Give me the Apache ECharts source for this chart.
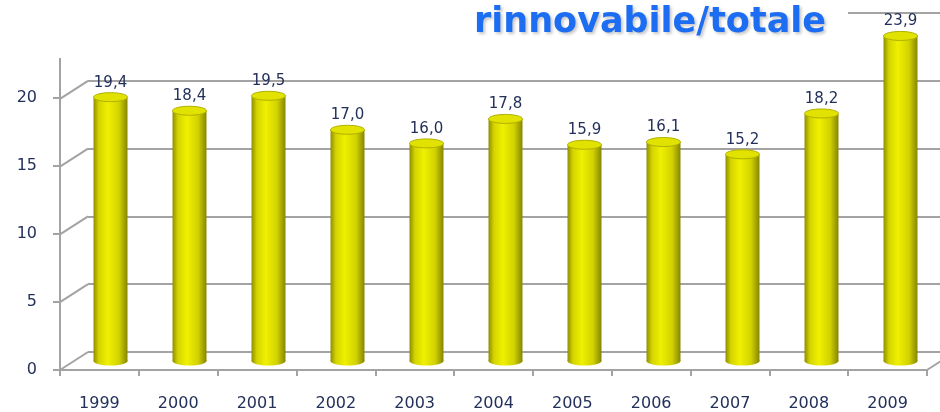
<!DOCTYPE html>
<html>
<head>
<meta charset="utf-8">
<script src="https://cdn.jsdelivr.net/npm/echarts@6/dist/echarts.min.js"></script>
<style>
  html, body { margin: 0; padding: 0; background: #fff; }
  #chart { width: 940px; height: 412px; }
</style>
</head>
<body>
<div id="chart"></div>
<script>
  // anni e quota rinnovabile/totale (%)
  const years = ['1999', '2000', '2001', '2002', '2003', '2004', '2005', '2006', '2007', '2008', '2009'];
  const shares = [19.4, 18.4, 19.5, 17.0, 16.0, 17.8, 15.9, 16.1, 15.2, 18.2, 23.9];
  const yTicks = [0, 5, 10, 15, 20, 25];

  const chart = echarts.init(document.getElementById('chart'));

  const gridGrey = '#a3a3a3';
  const textColor = '#23305a';
  const depthX = 28, depthY = 18;   // scostamento della parete di fondo (effetto 3D)

  // cilindro: corpo con gradiente + ellisse sopra e sotto
  function renderCylinder(params, api) {
    const x = api.value(0);
    const v = api.value(1);
    const top = api.coord([x, v]);
    const base = api.coord([x, 0]);
    const w = api.size([1, 0])[0] * 0.43;
    const rx = w / 2, ry = 4.5;
    const body = new echarts.graphic.LinearGradient(0, 0, 1, 0, [
      { offset: 0, color: '#8f8f00' },
      { offset: 0.16, color: '#d4d400' },
      { offset: 0.42, color: '#f0f000' },
      { offset: 0.75, color: '#d2d200' },
      { offset: 1, color: '#858500' }
    ]);
    return {
      type: 'group',
      children: [
        { type: 'ellipse', shape: { cx: base[0], cy: base[1], rx: rx, ry: ry }, style: { fill: body } },
        { type: 'rect', shape: { x: top[0] - rx, y: top[1], width: w, height: base[1] - top[1] }, style: { fill: body } },
        { type: 'ellipse', shape: { cx: top[0], cy: top[1], rx: rx, ry: ry },
          style: { fill: '#e2e200', stroke: '#b0b000', lineWidth: 1 } },
        { type: 'text', x: top[0], y: top[1] - 7,
          style: { text: v.toFixed(1).replace('.', ','), fill: textColor, font: '15px "DejaVu Sans"',
                   align: 'center', verticalAlign: 'bottom' } }
      ]
    };
  }

  // linee diagonali della parete laterale
  function renderSide(params, api) {
    const v = api.value(0);
    const cs = params.coordSys;
    const p = api.coord([0, v]);
    const children = [{
      type: 'line',
      shape: { x1: cs.x - depthX, y1: p[1] + depthY, x2: cs.x, y2: p[1] },
      style: { stroke: gridGrey, lineWidth: 2 }
    }];
    if (v === 0) {
      children.push({
        type: 'line',
        shape: { x1: 927, y1: p[1] + depthY, x2: 927 + depthX, y2: p[1] },
        style: { stroke: gridGrey, lineWidth: 2 }
      });
    }
    return { type: 'group', children: children };
  }

  const option = {
    animation: false,
    title: {
      text: 'rinnovabile/totale',
      left: 0,
      top: 0,
      padding: [5, 22, 18, 474],
      backgroundColor: '#fff',
      textStyle: {
        color: '#1d6df2',
        fontFamily: 'DejaVu Sans',
        fontWeight: 'bold',
        fontSize: 35,
        textShadowColor: 'rgba(0,0,0,0.22)',
        textShadowBlur: 3,
        textShadowOffsetX: 2,
        textShadowOffsetY: 2
      }
    },
    grid: [
      { left: 60, right: 13, top: 30, bottom: 42 },   // assi frontali
      { left: 88, right: -15, top: 13, bottom: 60 },  // parete di fondo
      { left: 71, right: 0, top: 21, bottom: 51 }     // cilindri
    ],
    xAxis: [
      {
        gridIndex: 0, type: 'category', data: years, boundaryGap: true,
        axisLine: { lineStyle: { color: gridGrey, width: 2 } },
        axisTick: { show: true, length: 6, lineStyle: { color: gridGrey, width: 2 } },
        axisLabel: { color: textColor, fontFamily: 'DejaVu Sans', fontSize: 16, margin: 26 }
      },
      { gridIndex: 1, type: 'category', data: years, show: false },
      { gridIndex: 2, type: 'category', data: years, show: false }
    ],
    yAxis: [
      {
        gridIndex: 0, type: 'value', min: 0, max: 25, interval: 5,
        axisLine: { show: true, lineStyle: { color: gridGrey, width: 2 } },
        axisTick: { show: true, length: 7, lineStyle: { color: gridGrey, width: 2 } },
        axisLabel: { color: textColor, fontFamily: 'DejaVu Sans', fontSize: 16, margin: 23 },
        splitLine: { show: false }
      },
      {
        gridIndex: 1, type: 'value', min: 0, max: 25, interval: 5,
        axisLine: { show: false }, axisTick: { show: false }, axisLabel: { show: false },
        splitLine: { show: true, lineStyle: { color: gridGrey, width: 2 } }
      },
      { gridIndex: 2, type: 'value', min: 0, max: 25, show: false, splitLine: { show: false } }
    ],
    series: [
      {
        type: 'custom', xAxisIndex: 1, yAxisIndex: 1, silent: true,
        encode: { y: 0 },
        data: yTicks.map(v => [v]),
        renderItem: renderSide
      },
      {
        type: 'custom', xAxisIndex: 2, yAxisIndex: 2, z: 5,
        encode: { x: 0, y: 1 },
        data: shares.map((v, i) => [i, v]),
        renderItem: renderCylinder
      }
    ]
  };

  chart.setOption(option);
</script>
</body>
</html>
